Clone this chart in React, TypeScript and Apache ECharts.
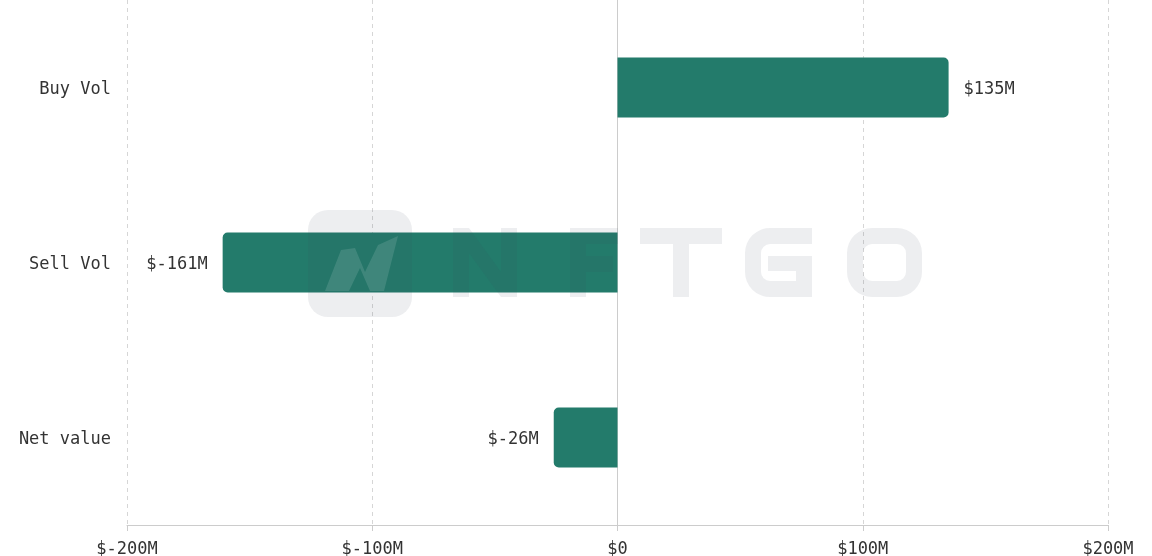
import React, { useEffect, useRef } from "react";
import * as echarts from "echarts";

const categories = ["Buy Vol", "Sell Vol", "Net value"];
const values = [135, -161, -26];
const xTicks = [-200, -100, 0, 100, 200];

const FONT = "'DejaVu Sans Mono', 'Liberation Mono', monospace";
const fmt = (v: number) => (v === 0 ? "$0" : `$${v}M`);

// watermark "NFTGO" wordmark outline
const WORDMARK_D = [
  "M453 228 H469 L501 272 V228 H517 V297 H501 L469 253 V297 H453 Z",
  "M570 228 H618 V244 H586 V256 H613 V272 H586 V297 H570 Z",
  "M640 228 H722 V244 H689 V297 H673 V244 H640 Z",
  "M812 228 H770 A25 25 0 0 0 745 253 V272 A25 25 0 0 0 770 297 H812 V256 H768 V271 H796 V281 H770 A9 9 0 0 1 761 272 V253 A9 9 0 0 1 770 244 H812 Z",
  "M872 228 H897 A25 25 0 0 1 922 253 V272 A25 25 0 0 1 897 297 H872 A25 25 0 0 1 847 272 V253 A25 25 0 0 1 872 228 Z",
  "M872 244 A9 9 0 0 0 863 253 V272 A9 9 0 0 0 872 281 H897 A9 9 0 0 0 906 272 V253 A9 9 0 0 0 897 244 Z",
].join(" ");

let registered = false;

export default function App() {
  const ref = useRef<HTMLDivElement>(null);
  useEffect(() => {
    if (!ref.current) return;
    if (!registered) {
      echarts.graphic.registerShape("nftgoWord", echarts.graphic.extendPath(WORDMARK_D, {}));
      registered = true;
    }
    const chart = echarts.init(ref.current, undefined, { renderer: "svg" });
    const wm = "rgba(66,76,97,0.095)";
    chart.setOption({
      animation: false,
      grid: { left: 127, right: 44, top: -3, bottom: 31, containLabel: false },
      xAxis: {
        type: "value",
        min: xTicks[0],
        max: xTicks[xTicks.length - 1],
        interval: 100,
        axisLine: { show: true, lineStyle: { color: "#cccccc" } },
        axisTick: { show: true, length: 6, lineStyle: { color: "#cccccc" } },
        axisLabel: { formatter: fmt, color: "#333", fontFamily: FONT, fontSize: 17, margin: 14 },
        splitLine: { show: true, lineStyle: { color: "#d6d6d6", type: [4, 4] } },
      },
      yAxis: {
        type: "category",
        data: categories,
        inverse: true,
        axisTick: { show: false },
        axisLine: { show: true, onZero: true, lineStyle: { color: "#cccccc" } },
        axisLabel: { color: "#333", fontFamily: FONT, fontSize: 17, margin: 16 },
      },
      series: [
        {
          type: "bar",
          barWidth: 60,
          data: values.map((v) => ({
            value: v,
            itemStyle: { borderRadius: v >= 0 ? [0, 5, 5, 0] : [5, 0, 0, 5] },
            label: { position: v >= 0 ? "right" : "left" },
          })),
          itemStyle: { color: "#237B6B" },
          label: {
            show: true,
            distance: 15,
            formatter: (p: any) => fmt(p.value),
            color: "#333",
            fontFamily: FONT,
            fontSize: 17,
          },
        },
      ],
      graphic: [
        { type: "rect", z: 100, silent: true, shape: { x: 308, y: 210, width: 104, height: 107, r: 20 }, style: { fill: wm } },
        {
          type: "polygon",
          z: 101,
          silent: true,
          shape: {
            points: [
              [325, 291], [341, 250], [355, 248], [365, 272], [378, 245], [398, 236],
              [384, 291], [370, 291], [360, 268], [349, 291],
            ],
          },
          style: { fill: "rgba(255,255,255,0.12)" },
        },
        { type: "nftgoWord", z: 100, silent: true, x: 0, y: 0, style: { fill: wm } },
      ],
    });
    return () => chart.dispose();
  }, []);
  return <div ref={ref} style={{ position: "fixed", left: 0, top: 0, width: 1152, height: 556 }} />;
}
